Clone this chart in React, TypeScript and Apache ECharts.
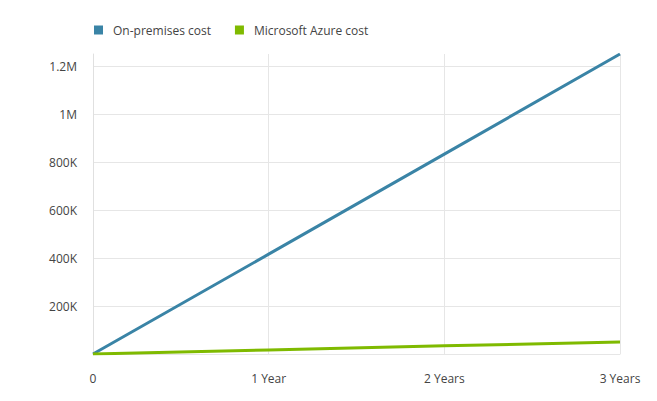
import React, { useEffect, useRef } from "react";
import * as echarts from "echarts";

const categories = ["0", "1 Year", "2 Years", "3 Years"];
const onPremises = [0, 416000, 833000, 1250000];
const azure = [0, 17000, 34000, 50000];
const seriesNames = ["On-premises cost", "Microsoft Azure cost"];

function fmt(v: number): string {
  if (v === 0) return "0";
  if (v >= 1000000) return v / 1000000 + "M";
  return v / 1000 + "K";
}

export default function App() {
  const ref = useRef<HTMLDivElement>(null);
  useEffect(() => {
    if (!ref.current) return;
    const chart = echarts.init(ref.current, undefined, { renderer: "svg" });
    const font = "'Open Sans', 'Noto Sans', sans-serif";
    chart.setOption({
      animation: false,
      textStyle: { fontFamily: font },
      color: ["#3a84a6", "#7fba00"],
      legend: {
        top: 19,
        left: 89,
        itemWidth: 9,
        itemHeight: 9,
        itemGap: 24,
        icon: "rect",
        textStyle: { fontSize: 12, color: "#444", fontFamily: font, padding: [0, 0, 0, 5] },
        data: seriesNames,
      },
      grid: { left: 93, right: 37, top: 54, bottom: 47, containLabel: false },
      xAxis: {
        type: "category",
        boundaryGap: false,
        data: categories,
        axisLine: { show: true, lineStyle: { color: "#e6e6e6" } },
        axisTick: { show: false },
        axisLabel: { color: "#444", fontSize: 12, margin: 18, fontFamily: font },
        splitLine: { show: true, lineStyle: { color: "#e6e6e6", width: 1 } },
      },
      yAxis: {
        type: "value",
        min: 0,
        max: 1250000,
        interval: 200000,
        axisLine: { show: true, lineStyle: { color: "#e0e0e0" } },
        axisTick: { show: false },
        axisLabel: {
          color: "#444",
          fontSize: 12,
          margin: 16,
          showMinLabel: false,
          showMaxLabel: false,
          fontFamily: font,
          formatter: (v: number) => (v % 200000 === 0 ? fmt(v) : ""),
        },
        splitLine: { show: true, showMaxLine: false, lineStyle: { color: "#e6e6e6", width: 1 } },
      },
      series: [
        {
          name: seriesNames[0],
          type: "line",
          data: onPremises,
          symbol: "none",
          lineStyle: { width: 3, color: "#3a84a6" },
        },
        {
          name: seriesNames[1],
          type: "line",
          data: azure,
          symbol: "none",
          lineStyle: { width: 3, color: "#7fba00" },
        },
      ],
    });
    return () => chart.dispose();
  }, []);
  return <div ref={ref} style={{ width: 657, height: 401, position: "absolute", left: 0, top: 0 }} />;
}
